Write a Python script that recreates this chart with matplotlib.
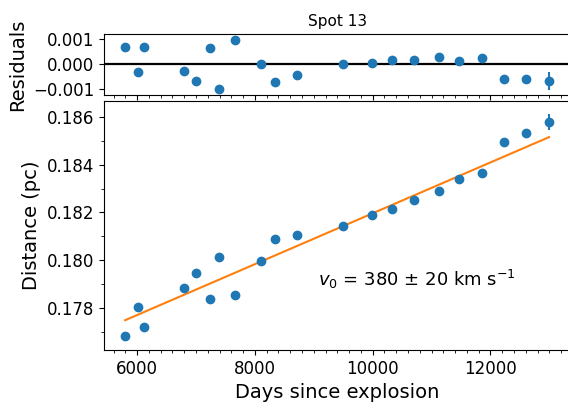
import numpy as np
import matplotlib.pyplot as plt

# days since explosion for each epoch
days = [5796, 6017, 6124, 6794, 6993, 7232, 7390, 7670, 8106, 8334, 8719,
        9492, 9986, 10327, 10707, 11133, 11468, 11853, 12228, 12610, 12995]
# distance of spot 13 (pc)
distance = [0.17681, 0.17803, 0.17718, 0.17882, 0.17944, 0.17838, 0.18015,
            0.17854, 0.17997, 0.18089, 0.18105, 0.18142, 0.18191, 0.18213,
            0.18254, 0.18289, 0.18339, 0.18367, 0.18494, 0.18534, 0.18580]
distance_err = [0.00005] * 20 + [0.00033]
# residuals as plotted (model - data)
residuals = [0.00068, -0.00032, 0.00066, -0.00028, -0.00068, 0.00062, -0.00097,
             0.00094, -0.00002, -0.00070, -0.00044, -0.00001, 0.00003, 0.00017,
             0.00017, 0.00028, 0.00013, 0.00023, -0.00059, -0.00059, -0.00067]
residuals_err = [0.00005] * 20 + [0.00034]

# linear fit, v0 = 380 km/s
fit_days = [5796, 12995]
fit_distance = [0.17748, 0.18516]

fig = plt.figure(figsize=(5.68, 4.03), dpi=100)
ax_res = fig.add_axes([0.183, 0.764, 0.821, 0.151])
ax = fig.add_axes([0.183, 0.1315, 0.821, 0.617], sharex=ax_res)

ax_res.errorbar(days, residuals, yerr=residuals_err, fmt="o", color="C0")
ax_res.axhline(0, color="black", lw=1.6)
ax_res.set_ylim(-0.00123, 0.00117)
ax_res.set_yticks([-0.001, 0.0, 0.001])
ax_res.set_ylabel("Residuals", fontsize=14)
ax_res.set_title("Spot 13", fontsize=11)
ax_res.tick_params(labelsize=12, labelbottom=False)

ax.errorbar(days, distance, yerr=distance_err, fmt="o", color="C0")
ax.plot(fit_days, fit_distance, color="C1")
ax.set_xlim(5436, 13355)
ax.set_ylim(0.17623, 0.18666)
ax.set_yticks([0.178, 0.180, 0.182, 0.184, 0.186])
ax.set_yticks(np.arange(0.177, 0.1865, 0.002), minor=True)
ax.set_xticks([6000, 8000, 10000, 12000])
ax.set_xticks(np.arange(5600, 13400, 200), minor=True)
ax.yaxis.set_major_formatter(plt.FormatStrFormatter("%.3f"))
ax.tick_params(labelsize=12)
ax.set_xlabel("Days since explosion", fontsize=14)
ax.set_ylabel("Distance (pc)", fontsize=14)
ax.text(9070, 0.1792, r"$v_0$ = 380 $\pm$ 20 km s$^{-1}$", fontsize=13, va="center")

fig.savefig("out.png", dpi=100)
